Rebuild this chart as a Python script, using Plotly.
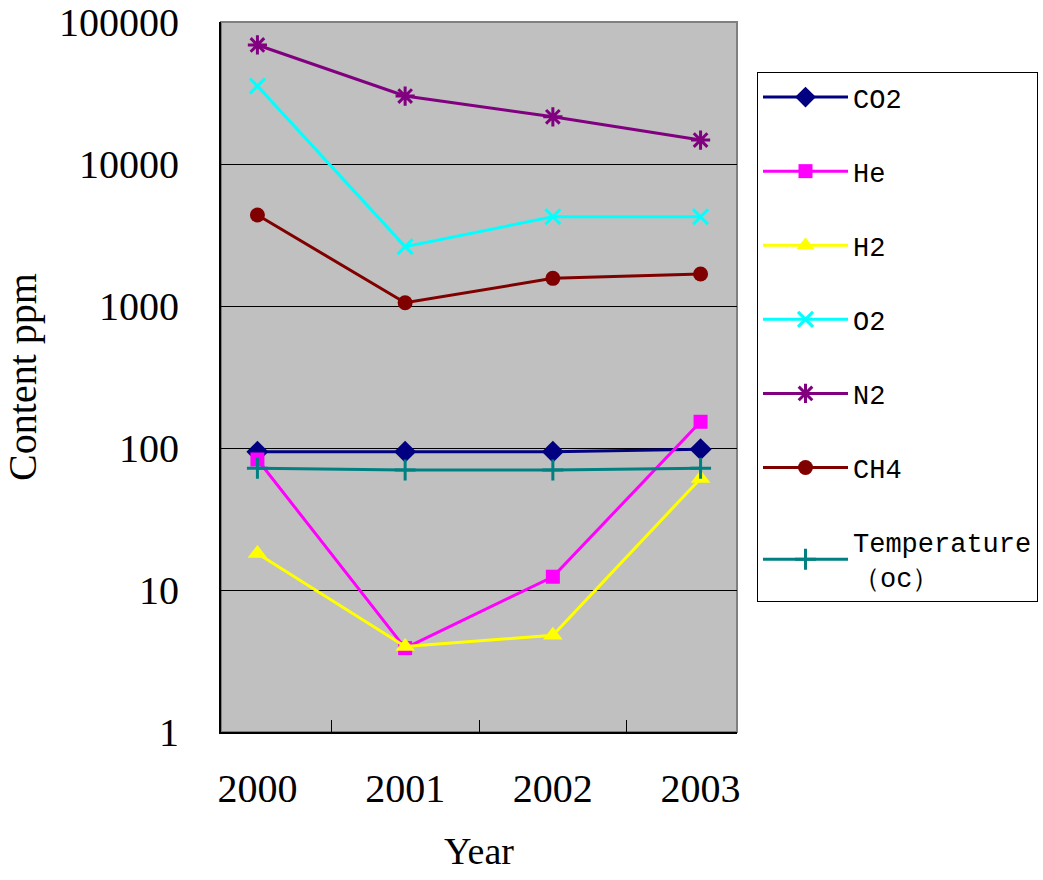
import plotly.graph_objects as go

years = ["2000", "2001", "2002", "2003"]
co2 = [94, 94, 94, 98]
he = [83, 3.9, 12.4, 153]
h2 = [18.1, 4.0, 4.8, 61]
o2 = [35400, 2620, 4250, 4250]
n2 = [68900, 30100, 21500, 14750]
ch4 = [4370, 1055, 1566, 1680]
temperature = [72, 70, 70, 72]

y_tickvals = [1, 10, 100, 1000, 10000, 100000]
y_ticktext = ["1", "10", "100", "1000", "10000", "100000"]

series = [
    ("CO2", co2, "#000080", "diamond", 17),
    ("He", he, "#FF00FF", "square", 14),
    ("H2", h2, "#FFFF00", "triangle-up", 17),
    ("O2", o2, "#00FFFF", "x-thin", 15),
    ("N2", n2, "#800080", "asterisk", 16),
    ("CH4", ch4, "#800000", "circle", 15),
    ("Temperature<br>（oc）", temperature, "#008080", "cross-thin", 15),
]

fig = go.Figure()
for i, (name, vals, color, sym, size) in enumerate(series):
    thin = sym.endswith("-thin") or sym == "asterisk"
    fig.add_trace(go.Scatter(
        x=years, y=vals, name=name, mode="lines+markers",
        legendgroup=f"g{i}",
        line=dict(color=color, width=3),
        marker=dict(symbol=sym, size=size, color=color,
                    line=dict(color=color, width=3 if thin else 0)),
    ))

fig.update_layout(
    width=1043, height=880,
    margin=dict(l=221, r=306, t=22, b=148),
    paper_bgcolor="white",
    plot_bgcolor="#C0C0C0",
    font=dict(family="Liberation Serif", color="black"),
    legend=dict(
        xref="container", yref="container",
        x=757 / 1043, y=1 - 72 / 880, xanchor="left", yanchor="top",
        maxheight=700,
        bordercolor="black", borderwidth=1, bgcolor="white",
        font=dict(family="Liberation Mono", size=27, color="black"),
        traceorder="grouped", tracegroupgap=36,
        itemwidth=85,
    ),
    xaxis=dict(
        type="category", showgrid=False, zeroline=False, automargin=False,
        showline=True, linecolor="black", linewidth=2,
        ticks="inside", tickson="boundaries", ticklen=12, tickcolor="black",
        tickfont=dict(family="Liberation Serif", size=40),
        ticklabelstandoff=20,
        title=dict(text="Year", font=dict(family="Liberation Serif", size=38), standoff=27),
    ),
    yaxis=dict(
        type="log", range=[0, 5], automargin=False,
        tickvals=y_tickvals, ticktext=y_ticktext,
        showgrid=True, gridcolor="black", gridwidth=1,
        showline=True, linecolor="black", linewidth=2,
        zeroline=False, ticks="", ticklabeloverflow="allow",
        tickfont=dict(family="Liberation Serif", size=40),
        ticklabelstandoff=32,
        title=dict(text="Content ppm", font=dict(family="Liberation Serif", size=40), standoff=26),
    ),
)

fig.add_shape(type="rect", xref="x domain", yref="y domain",
              x0=0, x1=1, y0=0, y1=1, line=dict(color="#808080", width=2), layer="below")

fig.write_html("out.html", config={"displayModeBar": False},
               post_script=["document.body.style.margin='0';"])
